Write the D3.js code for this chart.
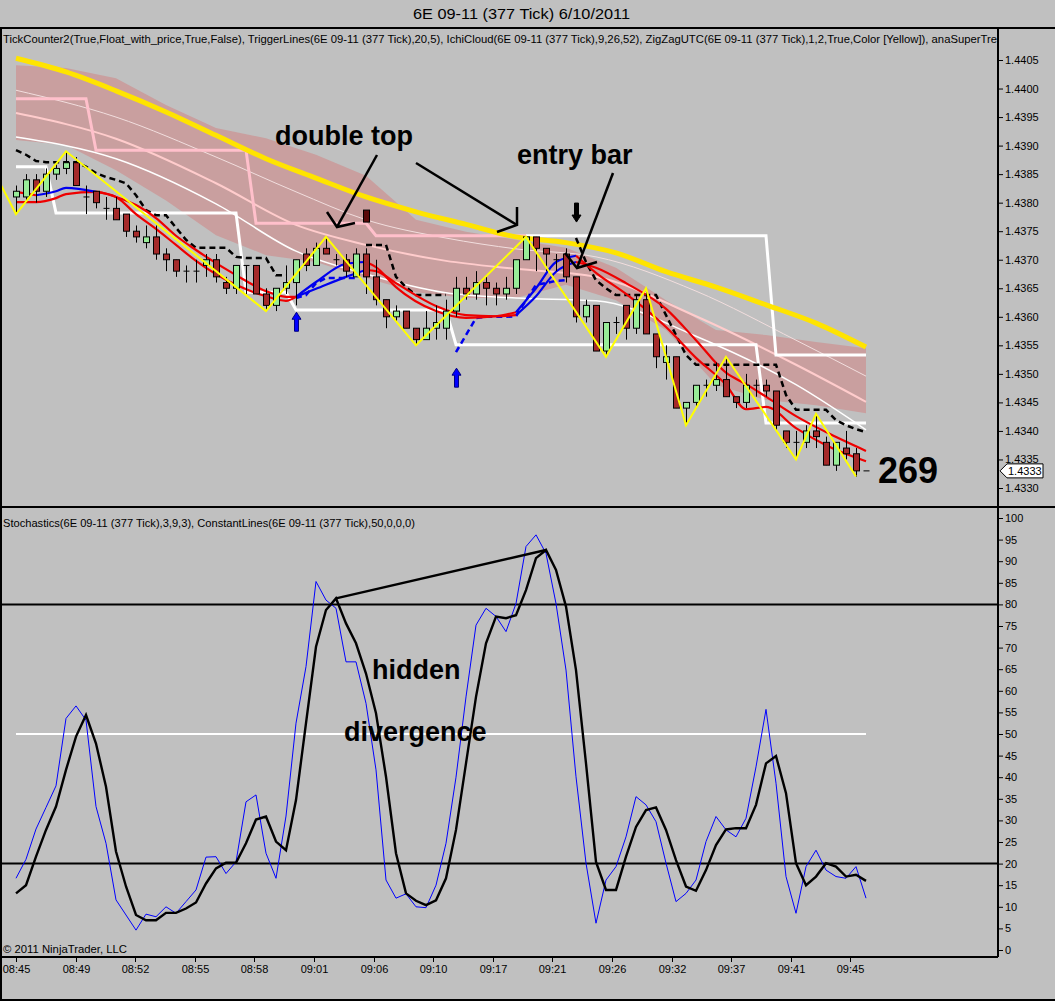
<!DOCTYPE html>
<html>
<head>
<meta charset="utf-8">
<script src="https://cdn.jsdelivr.net/npm/d3@7"></script>
<style>
  body { margin: 0; background: #c0c0c0; }
  svg { display: block; }
  text { font-family: "Liberation Sans", Arial, sans-serif; }
</style>
</head>
<body>
<svg id="chart" width="1055" height="1001"></svg>
<script>
// ---- data ----
var timeLabels = ["08:45","08:49","08:52","08:55","08:58","09:01","09:06","09:10","09:17","09:21","09:26","09:32","09:37","09:41","09:45"];
var labelEvery = 5.96;

var open = [1.4381,1.4381,1.4384,1.4382,1.4385,1.4386,1.4387,1.4381,1.4382,1.4379,
  1.4379,1.4378,1.4375,1.4373,1.4374,1.4371,1.4370,1.4368,1.4368,1.4369,
  1.4370,1.4366,1.4365,1.4369,1.4369,1.4364,1.4362,1.4365,1.4366,1.4371,
  1.4369,1.4372,1.4370,1.4370,1.4367,1.4371,1.4367,1.4363,1.4360,1.4361,
  1.4358,1.4356,1.4358,1.4358,1.4361,1.4365,1.4364,1.4366,1.4365,1.4364,
  1.4365,1.4370,1.4374,1.4372,1.4370,1.4371,1.4367,1.4360,1.4362,1.4354,
  1.4359,1.4362,1.4358,1.4363,1.4357,1.4352,1.4353,1.4344,1.4345,1.4348,
  1.4348,1.4349,1.4346,1.4345,1.4348,1.4348,1.4347,1.4340,1.4338,1.4338,
  1.4340,1.4338,1.4334,1.4337,1.4336,1.4333];
var high = [1.4383,1.4385,1.4385,1.4386,1.4387,1.4389,1.4388,1.4383,1.4382,1.4381,
  1.4381,1.4378,1.4376,1.4376,1.4376,1.4372,1.4370,1.4369,1.4370,1.4371,
  1.4371,1.4367,1.4369,1.4369,1.4369,1.4365,1.4365,1.4369,1.4370,1.4372,
  1.4373,1.4374,1.4371,1.4371,1.4372,1.4372,1.4370,1.4363,1.4362,1.4361,
  1.4358,1.4361,1.4362,1.4363,1.4367,1.4367,1.4368,1.4367,1.4366,1.4367,
  1.4370,1.4374,1.4374,1.4372,1.4371,1.4372,1.4367,1.4363,1.4362,1.4359,
  1.4360,1.4362,1.4364,1.4365,1.4357,1.4355,1.4353,1.4345,1.4348,1.4349,
  1.4352,1.4353,1.4346,1.4350,1.4349,1.4349,1.4347,1.4340,1.4340,1.4341,
  1.4343,1.4339,1.4338,1.4340,1.4337,1.4333];
var low = [1.4378,1.4380,1.4380,1.4381,1.4384,1.4385,1.4383,1.4378,1.4379,1.4377,
  1.4377,1.4374,1.4373,1.4372,1.4370,1.4368,1.4367,1.4366,1.4366,1.4367,
  1.4366,1.4364,1.4364,1.4364,1.4364,1.4361,1.4361,1.4364,1.4362,1.4368,
  1.4369,1.4371,1.4369,1.4367,1.4367,1.4364,1.4362,1.4358,1.4359,1.4358,
  1.4355,1.4356,1.4356,1.4356,1.4360,1.4363,1.4363,1.4362,1.4362,1.4363,
  1.4364,1.4370,1.4368,1.4368,1.4368,1.4366,1.4359,1.4359,1.4354,1.4353,
  1.4357,1.4356,1.4357,1.4357,1.4351,1.4349,1.4344,1.4341,1.4344,1.4346,
  1.4347,1.4346,1.4344,1.4344,1.4346,1.4346,1.4340,1.4337,1.4335,1.4337,
  1.4337,1.4334,1.4333,1.4335,1.4332,1.4333];
var close = [1.4382,1.4384,1.4382,1.4385,1.4386,1.4387,1.4383,1.4381,1.4380,1.4379,
  1.4377,1.4375,1.4374,1.4374,1.4371,1.4370,1.4368,1.4368,1.4368,1.4370,
  1.4367,1.4365,1.4369,1.4369,1.4364,1.4362,1.4365,1.4366,1.4370,1.4369,
  1.4372,1.4371,1.4370,1.4368,1.4371,1.4367,1.4363,1.4360,1.4361,1.4358,
  1.4356,1.4358,1.4359,1.4361,1.4365,1.4364,1.4366,1.4365,1.4364,1.4365,
  1.4370,1.4374,1.4372,1.4371,1.4370,1.4367,1.4360,1.4362,1.4354,1.4359,
  1.4359,1.4358,1.4363,1.4357,1.4353,1.4353,1.4344,1.4345,1.4348,1.4348,
  1.4349,1.4346,1.4345,1.4348,1.4348,1.4347,1.4341,1.4338,1.4338,1.4340,
  1.4339,1.4334,1.4338,1.4336,1.4333,1.4333];

// slow average (thick yellow) and ichimoku cloud, read every 5 bars
var slowBars = [0,5,10,15,20,25,30,35,40,45,50,55,60,65,70,75,80,85];
var slowAvg = [1.44053,1.44029,1.43996,1.43959,1.43918,1.43877,1.43843,1.43810,1.43784,1.43762,1.43740,1.43730,1.43712,1.43679,1.43652,1.43621,1.43589,1.43547];
var cloudTop = [1.44041,1.44036,1.44018,1.43971,1.43931,1.43913,1.43884,1.43847,1.43770,1.43749,1.43735,1.43721,1.43686,1.43629,1.43577,1.43568,1.43556,1.43545];
var cloudBottom = [1.43910,1.43901,1.43857,1.43804,1.43743,1.43708,1.43696,1.43668,1.43643,1.43633,1.43633,1.43656,1.43629,1.43577,1.43481,1.43454,1.43445,1.43431];

// thin cloud lines
var thinBars = [0,10,20,28,35,43,50,58,68,78,85];
var thinUpper = [1.43997,1.43950,1.43880,1.43819,1.43770,1.43738,1.43719,1.43705,1.43645,1.43559,1.43496];
var thinMiddle = [1.43957,1.43912,1.43834,1.43761,1.43726,1.43698,1.43684,1.43670,1.43601,1.43516,1.43451];
var thinLower = [1.43915,1.43877,1.43798,1.43715,1.43675,1.43642,1.43633,1.43628,1.43566,1.43481,1.43402];

// trigger lines: [first bar, level]
var upperSteps = [[0,1.43982],[8,1.43892],[24,1.43764],[36,1.43742],[76,1.43533]];
var lowerSteps = [[0,1.43863],[4,1.43782],[23,1.43643],[28,1.43612],[44,1.43551],[75,1.43414]];

// trailing stop (dashed), black when short, blue when long
var stopShortA = {start: 0, vals: [1.43892,1.43884,1.43873,1.43871,1.43871,1.43871,1.43871,1.43863,1.43852,1.43845,1.43840,1.43834,1.43813,1.43787,1.43778,1.43778,1.43756,1.43735,1.43721,1.43721,1.43721,1.43721,1.43705,1.43703,1.43703,1.43703,1.43673,1.43673]};
var stopLongA = {start: 28, vals: [1.43633,1.43638,1.43659,1.43668,1.43668,1.43668,1.43668]};
var stopShortB = {start: 35, vals: [1.43726,1.43726,1.43726,1.43670,1.43652,1.43638,1.43638,1.43638,1.43638]};
var stopLongB = {start: 44, vals: [1.43538,1.43568,1.43598,1.43600,1.43600,1.43600,1.43601,1.43629,1.43656,1.43659,1.43663,1.43664]};
var stopShortC = {start: 56, vals: [1.43738,1.43696,1.43664,1.43650,1.43638,1.43638,1.43638,1.43638,1.43638,1.43603,1.43568,1.43533,1.43516,1.43516,1.43516,1.43516,1.43516,1.43516,1.43516,1.43516,1.43516,1.43463,1.43437,1.43437,1.43437,1.43437,1.43419,1.43410,1.43403,1.43398]};

// two moving averages, red falling / blue rising
var maBars = [0,2,4,5,8,10,12,14,16,18,22,25,27,28,30,33,35,36,38,42,45,48,50,52,54,56,58,61,65,68,71,73,75,78,81,85];
var maFast = [1.43819,1.43813,1.43820,1.43826,1.43819,1.43810,1.43780,1.43754,1.43726,1.43698,1.43656,1.43636,1.43628,1.43635,1.43661,1.43693,1.43696,1.43687,1.43652,1.43610,1.43598,1.43601,1.43608,1.43650,1.43696,1.43707,1.43677,1.43640,1.43582,1.43528,1.43481,1.43438,1.43442,1.43405,1.43375,1.43347];
var maSlow = [1.43801,1.43801,1.43808,1.43815,1.43819,1.43810,1.43796,1.43773,1.43742,1.43717,1.43673,1.43645,1.43635,1.43635,1.43649,1.43670,1.43682,1.43680,1.43659,1.43619,1.43603,1.43601,1.43603,1.43636,1.43679,1.43696,1.43686,1.43659,1.43614,1.43559,1.43502,1.43482,1.43460,1.43426,1.43398,1.43365];
var fastUp = [[2,8],[28,35],[50,56]];
var slowUp = [[28,35],[50,56]];

// zigzag swing points
var zigBars = [-1.6,0,5,25,31,40,51,59,63,67,71,78,80,84];
var zigPrices = [1.43834,1.4378,1.4389,1.4361,1.4374,1.4355,1.4374,1.4353,1.4365,1.4341,1.4353,1.4335,1.4343,1.4332];

// signal arrows
var signals = [{bar: 28, price: 1.43608, dir: "up"}, {bar: 44, price: 1.43510, dir: "up"}, {bar: 56, price: 1.43766, dir: "down"}];
var markBar = {bar: 35, hi: 1.43787, lo: 1.43766};

// stochastics 3,9,3
var stochK = [16.6,21,28,33,38,53.6,56.5,53.2,33.2,24.7, 11.6,8.1,4.6,8.3,7.7,10,8.5,11.2,13.9,21.5,
  21.6,17.7,20.4,34.3,35.9,22.4,16.6,31,52.5,65.6, 85.3,81,79.1,66.7,66.7,57.1,41.7,16.2,12,13,
  10,9.8,15,24.7,40,58.6,75.2,79.1,77.2,73.7, 80.2,93.4,96.1,91.8,80.2,64.8,40.1,20.1,6.2,16.2,
  19.3,26.2,35.5,33.6,29.7,20.1,11.2,13.1,16.2,25.1, 30.9,27.8,26.2,30.5,42.4,55.7,38.6,17,8.5,19.3,
  23.1,18.5,17,16.6,19.3,12];
var stochD = [13.1,15,21.6,27.8,33.2,41.7,49.4,54.4,47.8,37.8, 22.8,14.7,8.1,6.9,6.9,8.6,8.6,9.6,11,15.4,
  18.9,20.2,20.2,24.7,30.2,30.9,25.1,23.1,34.7,52.5, 70.2,78.7,81.4,75.6,71,64,54.8,40.1,22.4,13.1,
  11.4,10.4,11.5,16.6,27.8,43.2,58.6,71,77.2,76.8, 77.5,83.3,90.7,92.6,88,79.5,64.8,43.2,20.4,13.9,
  13.9,21.6,28.5,32.4,33,27.8,20.8,14.7,13.7,18.5, 24.3,27.9,28.2,28.2,33.6,43.2,44.9,36.3,20.1,15,
  17,20.1,19.3,17,17.4,16];
var stochLevels = [80, 20];
var midLevel = 50;
var divergence = [[32, 81.4], [53, 92.6]];

// hand drawn annotations (bar, price)
var annoArrows = [
  [[36.1,1.438835],[32.1,1.437574]], [[31.1,1.437837],[32.1,1.437574],[33.9,1.437644]],
  [[40.0,1.438695],[50.1,1.437609]], [[50.1,1.437924],[50.1,1.437609],[48.1,1.437486]],
  [[59.7,1.43852],[56.1,1.436855]], [[54.9,1.437118],[56.1,1.436855],[58.1,1.43696]]
];
var annoPrice = [{text: "double top", bar: 25.9, price: 1.43901, size: 27},
  {text: "entry bar", bar: 50.1, price: 1.43868, size: 27},
  {text: "269", bar: 86.2, price: 1.43309, size: 36}];
var annoStoch = [{text: "hidden", bar: 35.6, v: 62.7}, {text: "divergence", bar: 32.8, v: 48.4}];

// ---- drawing ----
var svg = d3.select("#chart");
var x = d3.scaleLinear().domain([0, 85]).range([16, 866]);
var yP = d3.scaleLinear().domain([1.4330, 1.4405]).range([488, 60]);
var yS = d3.scaleLinear().domain([0, 100]).range([950, 518]);
var axisX = 998;

svg.append("rect").attr("width", 1055).attr("height", 1001).attr("fill", "#c0c0c0");

var defs = svg.append("defs");
defs.append("clipPath").attr("id", "clipP").append("rect")
  .attr("x", 2).attr("y", 29).attr("width", 996).attr("height", 477);
defs.append("clipPath").attr("id", "clipS").append("rect")
  .attr("x", 2).attr("y", 509).attr("width", 996).attr("height", 447);
defs.append("clipPath").attr("id", "clipT").append("rect")
  .attr("x", 0).attr("y", 28).attr("width", 997).attr("height", 30);

// title and frame
svg.append("text").attr("x", 413).attr("y", 19).attr("font-size", 15)
  .attr("textLength", 217).attr("lengthAdjust", "spacingAndGlyphs")
  .text("6E 09-11 (377 Tick)  6/10/2011");

var frame = svg.append("g").attr("stroke", "#000").attr("stroke-width", 2);
frame.append("line").attr("x1", 0).attr("x2", 1055).attr("y1", 28).attr("y2", 28);
frame.append("line").attr("x1", 1).attr("x2", 1).attr("y1", 28).attr("y2", 1000);
frame.append("line").attr("x1", 0).attr("x2", 1055).attr("y1", 507).attr("y2", 507);
frame.append("line").attr("x1", 0).attr("x2", 1055).attr("y1", 1000).attr("y2", 1000);
frame.append("line").attr("x1", axisX).attr("x2", axisX).attr("y1", 28).attr("y2", 957);
frame.append("line").attr("x1", 0).attr("x2", axisX).attr("y1", 957).attr("y2", 957);

// ---- price panel ----
var gP = svg.append("g").attr("clip-path", "url(#clipP)");

var cloud = slowBars.map(function (b, k) { return {i: b, hi: cloudTop[k], lo: cloudBottom[k]}; });
gP.append("path").datum(cloud).attr("fill", "#c99f9f")
  .attr("d", d3.area().x(function (d) { return x(d.i); })
    .y0(function (d) { return yP(d.lo); }).y1(function (d) { return yP(d.hi); }));

function priceLine(curve) {
  return d3.line().x(function (d) { return x(d[0]); }).y(function (d) { return yP(d[1]); }).curve(curve);
}
function pairs(bars, vals) { return bars.map(function (b, k) { return [b, vals[k]]; }); }

[[thinUpper, "#f2dede", 1], [thinMiddle, "#ffcccc", 2], [thinLower, "#ffffff", 1.5]].forEach(function (t) {
  gP.append("path").datum(pairs(thinBars, t[0])).attr("fill", "none")
    .attr("stroke", t[1]).attr("stroke-width", t[2]).attr("d", priceLine(d3.curveMonotoneX));
});

function expandSteps(steps, n) {
  var out = [];
  for (var i = 0; i < n; i++) {
    var v;
    steps.forEach(function (s) { if (i >= s[0]) v = s[1]; });
    out.push([i, v]);
  }
  return out;
}
var nBars = open.length;
var upperLine = expandSteps(upperSteps, nBars);
var lowerLine = expandSteps(lowerSteps, nBars);
gP.append("path").datum(upperLine.slice(0, 52)).attr("fill", "none").attr("stroke", "#ffc0cb")
  .attr("stroke-width", 3).attr("d", priceLine(d3.curveLinear));
gP.append("path").datum(upperLine.slice(51)).attr("fill", "none").attr("stroke", "#ffffff")
  .attr("stroke-width", 3).attr("d", priceLine(d3.curveLinear));
gP.append("path").datum(lowerLine).attr("fill", "none").attr("stroke", "#ffffff")
  .attr("stroke-width", 3).attr("d", priceLine(d3.curveLinear));

gP.append("path").datum(pairs(slowBars, slowAvg)).attr("fill", "none").attr("stroke", "#ffe400")
  .attr("stroke-width", 5).attr("d", priceLine(d3.curveMonotoneX));

[[stopShortA, "#000"], [stopLongA, "#0000ee"], [stopShortB, "#000"], [stopLongB, "#0000ee"], [stopShortC, "#000"]].forEach(function (s) {
  var pts = s[0].vals.map(function (v, k) { return [s[0].start + k, v]; });
  gP.append("path").datum(pts).attr("fill", "none").attr("stroke", s[1])
    .attr("stroke-width", 2.5).attr("stroke-dasharray", "6,4").attr("d", priceLine(d3.curveLinear));
});

// moving averages, split into colour runs
function drawMA(vals, upRanges) {
  var pts = pairs(maBars, vals);
  var runs = [];
  for (var k = 0; k < pts.length - 1; k++) {
    var a = maBars[k], b = maBars[k + 1];
    var up = upRanges.some(function (r) { return a >= r[0] && b <= r[1]; });
    var col = up ? "#0000ee" : "#ee0000";
    if (runs.length && runs[runs.length - 1].col === col) runs[runs.length - 1].pts.push(pts[k + 1]);
    else runs.push({col: col, pts: [pts[k], pts[k + 1]]});
  }
  runs.forEach(function (r) {
    gP.append("path").datum(r.pts).attr("fill", "none").attr("stroke", r.col)
      .attr("stroke-width", 2.2).attr("d", priceLine(d3.curveMonotoneX));
  });
}
drawMA(maSlow, slowUp);
drawMA(maFast, fastUp);

// candles
var bars = d3.range(nBars).map(function (i) {
  return {i: i, o: open[i], h: high[i], l: low[i], c: close[i]};
});
var cx = function (d) { return Math.round(x(d.i)) + 0.5; };
var cg = gP.append("g");
cg.selectAll("line.wick").data(bars).enter().append("line")
  .attr("x1", cx).attr("x2", cx)
  .attr("y1", function (d) { return yP(d.h); }).attr("y2", function (d) { return yP(d.l); })
  .attr("stroke", "#000").attr("stroke-width", 1);
cg.selectAll("rect.body").data(bars.filter(function (d) { return d.o !== d.c; })).enter().append("rect")
  .attr("x", function (d) { return cx(d) - 3; }).attr("width", 6)
  .attr("y", function (d) { return yP(Math.max(d.o, d.c)); })
  .attr("height", function (d) { return Math.abs(yP(d.o) - yP(d.c)); })
  .attr("fill", function (d) { return d.c > d.o ? "#98ec98" : "#a52a2a"; })
  .attr("stroke", "#000").attr("stroke-width", 1);
cg.selectAll("line.doji").data(bars.filter(function (d) { return d.o === d.c; })).enter().append("line")
  .attr("x1", function (d) { return cx(d) - 3; }).attr("x2", function (d) { return cx(d) + 3; })
  .attr("y1", function (d) { return yP(d.c); }).attr("y2", function (d) { return yP(d.c); })
  .attr("stroke", "#000").attr("stroke-width", 1);

gP.append("rect").attr("x", Math.round(x(markBar.bar)) - 2.5).attr("width", 6)
  .attr("y", yP(markBar.hi)).attr("height", yP(markBar.lo) - yP(markBar.hi))
  .attr("fill", "#5a0a0a").attr("stroke", "#000");

// zigzag
gP.append("path").datum(pairs(zigBars, zigPrices)).attr("fill", "none").attr("stroke", "#ffff00")
  .attr("stroke-width", 2).attr("d", priceLine(d3.curveLinear));

// signal arrows
signals.forEach(function (s) {
  var ax = Math.round(x(s.bar)) + 0.5, ay = yP(s.price), k = s.dir === "up" ? 1 : -1;
  var pts = [[0, 0], [-4.5, 7], [-2, 7], [-2, 19], [2, 19], [2, 7], [4.5, 7]]
    .map(function (p) { return [ax + p[0], ay + k * p[1]]; });
  gP.append("polygon").attr("points", pts.join(" "))
    .attr("fill", s.dir === "up" ? "#0000ff" : "#000").attr("stroke", s.dir === "up" ? "#000080" : "#000");
});

// annotation arrows and words
var ag = svg.append("g");
annoArrows.forEach(function (a) {
  ag.append("path").datum(a).attr("fill", "none").attr("stroke", "#000").attr("stroke-width", 2.5)
    .attr("d", priceLine(d3.curveLinear));
});
annoPrice.forEach(function (t) {
  ag.append("text").attr("x", x(t.bar)).attr("y", yP(t.price)).attr("font-size", t.size)
    .attr("font-weight", "bold").attr("fill", "#000").text(t.text);
});

// price axis
var pAxis = svg.append("g").attr("transform", "translate(" + axisX + ",0)")
  .call(d3.axisRight(yP).tickValues(d3.range(16).map(function (k) { return 1.4330 + k * 0.0005; }))
    .tickFormat(d3.format(".4f")).tickSize(5).tickPadding(2));
pAxis.select(".domain").remove();
pAxis.selectAll("text").attr("font-size", 11).attr("fill", "#000").attr("font-family", "Liberation Sans, Arial, sans-serif");
pAxis.selectAll("line").attr("stroke", "#000");

var last = close[nBars - 1], ly = yP(last);
svg.append("path")
  .attr("d", "M" + (axisX + 2) + "," + ly + "l7,-7h36v14h-36z")
  .attr("fill", "#fff").attr("stroke", "#000");
svg.append("text").attr("x", axisX + 10).attr("y", ly + 4).attr("font-size", 11).text(d3.format(".4f")(last));

svg.append("text").attr("x", 3).attr("y", 43).attr("font-size", 11).attr("clip-path", "url(#clipT)")
  .attr("textLength", 994).attr("lengthAdjust", "spacingAndGlyphs")
  .text("TickCounter2(True,Float_with_price,True,False), TriggerLines(6E 09-11 (377 Tick),20,5), IchiCloud(6E 09-11 (377 Tick),9,26,52), ZigZagUTC(6E 09-11 (377 Tick),1,2,True,Color [Yellow]), anaSuperTre");

// ---- stochastics panel ----
var gS = svg.append("g").attr("clip-path", "url(#clipS)");
stochLevels.forEach(function (v) {
  gS.append("line").attr("x1", 0).attr("x2", axisX).attr("y1", yS(v)).attr("y2", yS(v))
    .attr("stroke", "#000").attr("stroke-width", 2);
});
gS.append("line").attr("x1", x(0)).attr("x2", x(nBars - 1)).attr("y1", yS(midLevel)).attr("y2", yS(midLevel))
  .attr("stroke", "#fff").attr("stroke-width", 2);

var sLine = d3.line().x(function (d, i) { return x(i); }).y(function (d) { return yS(d); });
gS.append("path").datum(stochK).attr("fill", "none").attr("stroke", "#0000ff").attr("stroke-width", 1).attr("d", sLine);
gS.append("path").datum(stochD).attr("fill", "none").attr("stroke", "#000").attr("stroke-width", 2.4).attr("d", sLine);
gS.append("path").datum(divergence).attr("fill", "none").attr("stroke", "#000").attr("stroke-width", 2.5)
  .attr("d", d3.line().x(function (d) { return x(d[0]); }).y(function (d) { return yS(d[1]); }));
annoStoch.forEach(function (t) {
  gS.append("text").attr("x", x(t.bar)).attr("y", yS(t.v)).attr("font-size", 27)
    .attr("font-weight", "bold").text(t.text);
});

var sAxis = svg.append("g").attr("transform", "translate(" + axisX + ",0)")
  .call(d3.axisRight(yS).tickValues(d3.range(0, 101, 5)).tickSize(5).tickPadding(2));
sAxis.select(".domain").remove();
sAxis.selectAll("text").attr("font-size", 11).attr("fill", "#000").attr("font-family", "Liberation Sans, Arial, sans-serif");
sAxis.selectAll("line").attr("stroke", "#000");

svg.append("text").attr("x", 3).attr("y", 527).attr("font-size", 11)
  .attr("textLength", 412).attr("lengthAdjust", "spacingAndGlyphs")
  .text("Stochastics(6E 09-11 (377 Tick),3,9,3), ConstantLines(6E 09-11 (377 Tick),50,0,0,0)");
svg.append("text").attr("x", 3).attr("y", 953).attr("font-size", 11)
  .attr("textLength", 124).attr("lengthAdjust", "spacingAndGlyphs")
  .text("\u00a9 2011 NinjaTrader, LLC");

// ---- time axis ----
var tg = svg.append("g");
timeLabels.forEach(function (lab, k) {
  var tx = Math.round(x(k * labelEvery)) + 0.5;
  tg.append("line").attr("x1", tx).attr("x2", tx).attr("y1", 957).attr("y2", 962).attr("stroke", "#000");
  tg.append("text").attr("x", tx).attr("y", 973).attr("font-size", 11).attr("text-anchor", "middle").text(lab);
});
</script>
</body>
</html>
